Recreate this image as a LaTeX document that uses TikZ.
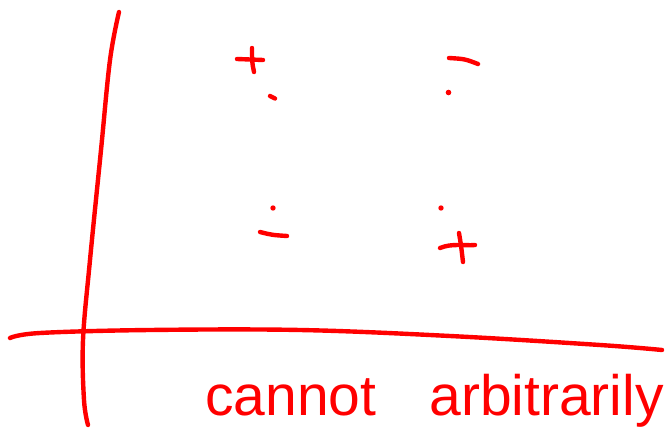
\documentclass[tikz,border=0pt]{standalone}
\usepackage{fontspec}
\setmainfont{Liberation Sans}
\begin{document}
\begin{tikzpicture}[x=1pt,y=-1pt,
  ink/.style={draw=red, line width=4.4pt, line cap=round, line join=round},
  dotmark/.style={fill=red, draw=none},
  handtext/.style={text=red, inner sep=0pt, font=\fontsize{57}{60}\selectfont}]
\useasboundingbox (0,0) rectangle (667,430);
% axes
\draw[ink] plot[smooth, tension=0.6] coordinates {(119,12) (110,60) (101,150) (90,260) (83,340) (84,400) (88,425)};
\draw[ink] plot[smooth, tension=0.6] coordinates {(10,338) (40,333) (150,330) (300,330) (450,336) (600,345) (662,350)};
% top-left +
\draw[ink] (237,59) -- (263,60);
\draw[ink] (252,48) .. controls (252,62) .. (254,72);
\draw[ink] (270,96) -- (275,98.5);
% top-right -
\draw[ink] (449,58) .. controls (465,59) .. (478,64);
\fill[dotmark] (448.5,92.5) circle (2.8pt);
% bottom-left -
\fill[dotmark] (273,208) circle (2.7pt);
\draw[ink] (260,232) .. controls (272,235) .. (287,236);
% bottom-right +
\fill[dotmark] (441,208) circle (2.7pt);
\draw[ink] (440,248) .. controls (452,243) and (465,246) .. (475,245);
\draw[ink] (459,233) .. controls (461,245) .. (463,262);
% text
\node[handtext, anchor=base west] (t1) at (205,415) {cannot};
\node[handtext, anchor=base east] (t2) at (664,415) {arbitrarily};
\end{tikzpicture}
\end{document}
